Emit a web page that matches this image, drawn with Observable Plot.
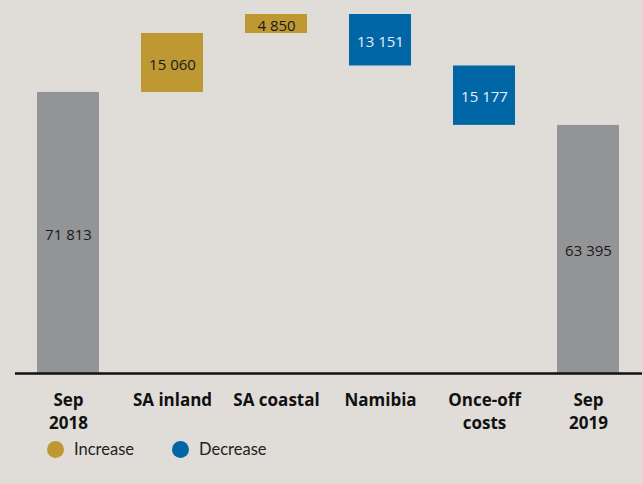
<!DOCTYPE html>
<html>
<head>
<meta charset="utf-8">
<script src="https://cdn.jsdelivr.net/npm/d3@7"></script>
<script src="https://cdn.jsdelivr.net/npm/@observablehq/plot@0.6"></script>
<style>
  html, body { margin: 0; padding: 0; background: #e0ddd8; }
  #chart svg { display: block; background: #e0ddd8; }
  .legend { display: flex; align-items: center; font-family: Lato, sans-serif; font-size: 16.5px; color: #222; height: 20px; margin-top: -1px; }
  .legend .sw { width: 17px; height: 17px; border-radius: 50%; display: inline-block; margin-right: 10px; }
  .legend .item { display: flex; align-items: center; }
</style>
</head>
<body>
<div id="chart"></div>
<div class="legend">
  <span class="item" style="margin-left:47px"><span class="sw" style="background:#bd9833"></span>Increase</span>
  <span class="item" style="margin-left:38px"><span class="sw" style="background:#0066a6"></span>Decrease</span>
</div>
<script>
const categories = ["Sep\n2018", "SA inland", "SA coastal", "Namibia", "Once-off\ncosts", "Sep\n2019"];
const values = [71813, 15060, 4850, -13151, -15177, 63395];
const kinds = ["total", "increase", "increase", "decrease", "decrease", "total"];

const colors = { total: "#939496", increase: "#bd9833", decrease: "#0066a6" };
const textColors = { total: "#1a1a1a", increase: "#1a1a1a", decrease: "#e8eef5" };

let running = 0;
const rows = categories.map((c, i) => {
  let y1, y2;
  if (kinds[i] === "total") { y1 = 0; y2 = values[i]; running = values[i]; }
  else { y1 = running; y2 = running + values[i]; running = y2; }
  return { cat: c, value: values[i], kind: kinds[i], y1, y2 };
});

const fmt = v => d3.format(",")(Math.abs(v)).replace(/,/g, " ");

const chart = Plot.plot({
  width: 643,
  height: 440,
  marginLeft: 15,
  marginRight: 1,
  marginTop: 0,
  marginBottom: 67,
  style: { background: "#e0ddd8", fontFamily: "Lato, sans-serif" },
  x: { domain: categories, paddingInner: 0.4, paddingOuter: 0.2, label: null },
  y: { domain: [0, 95300], axis: null },
  marks: [
    Plot.barY(rows, { x: "cat", y1: "y1", y2: "y2", fill: d => colors[d.kind] }),
    Plot.text(rows, {
      x: "cat", y: d => (d.y1 + d.y2) / 2, text: d => fmt(d.value),
      fill: d => textColors[d.kind], fontSize: 15, fontFamily: "Open Sans, sans-serif", dy: 2
    }),
    Plot.ruleY([0], { stroke: "#111", strokeWidth: 2.5 }),
    Plot.axisX({
      tickSize: 0, tickPadding: 16, fontSize: 17, fontWeight: "bold",
      fontFamily: "Open Sans, sans-serif",
      lineHeight: 1.36, lineAnchor: "top", fill: "#111", label: null
    })
  ]
});
document.getElementById("chart").append(chart);
</script>
</body>
</html>
